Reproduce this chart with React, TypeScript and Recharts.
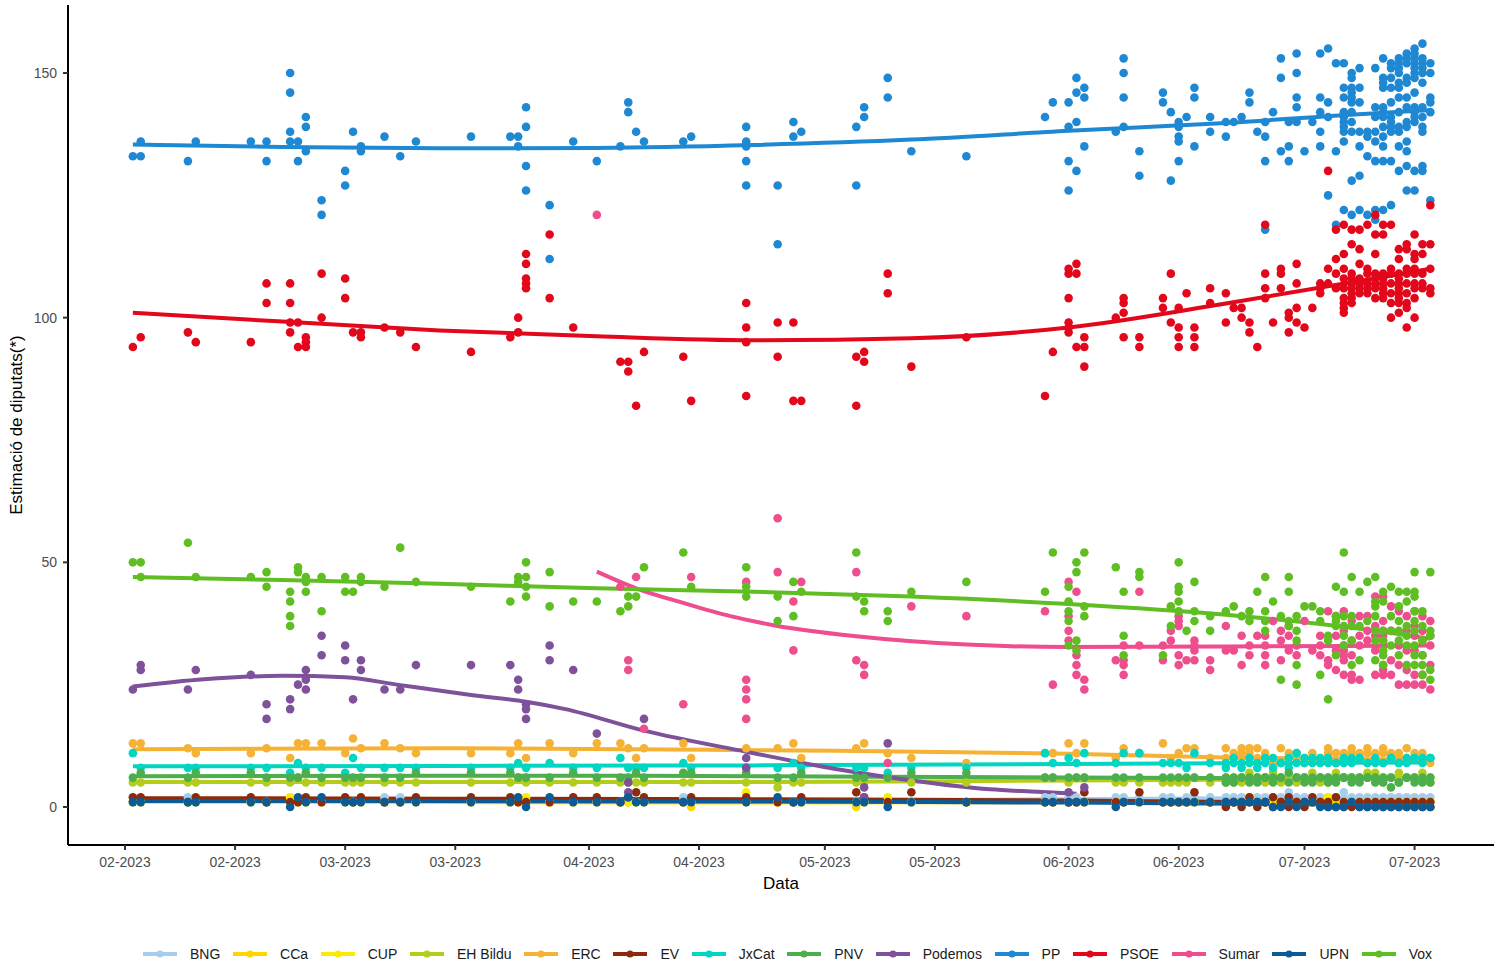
import React from 'react'
import { ComposedChart, Scatter, Line, XAxis, YAxis } from 'recharts'

type Day = [number, number[]]
type Pt = [number, number]

// x = days since 1 Feb 2023
const tickDays = [0, 14, 28, 42, 59, 73, 89, 103, 120, 134, 150, 164]
const tickLabels = [
  '02-2023', '02-2023', '03-2023', '03-2023', '04-2023', '04-2023',
  '05-2023', '05-2023', '06-2023', '06-2023', '07-2023', '07-2023',
]
const yTicks = [0, 50, 100, 150]

const parties = [
  'BNG', 'CCa', 'CUP', 'EH Bildu', 'ERC', 'EV', 'JxCat',
  'PNV', 'Podemos', 'PP', 'PSOE', 'Sumar', 'UPN', 'Vox',
]

const colors: Record<string, string> = {
  BNG: '#a6cdec',
  CCa: '#ffd500',
  CUP: '#f8ec00',
  'EH Bildu': '#b4cc1a',
  ERC: '#f5b234',
  EV: '#8b2a0c',
  JxCat: '#00d6c1',
  PNV: '#4cae4c',
  Podemos: '#7e519b',
  PP: '#1f88d3',
  PSOE: '#e2071b',
  Sumar: '#ee4d8e',
  UPN: '#0b5b97',
  Vox: '#5fbe22',
}

// every poll date (small parties are read once per date)
const pollDays = [
  1, 2, 8, 9, 16, 18, 21, 22, 23, 25, 28, 29, 30, 33, 35, 37, 44, 49, 50, 51,
  54, 57, 60, 63, 64, 65, 66, 71, 72, 79, 83, 85, 86, 93, 94, 97, 100, 107, 117, 118,
  120, 121, 122, 126, 127, 129, 132, 133, 134, 135, 136, 138,
  140, 141, 142, 143, 144, 145, 146, 147, 148, 149, 150, 151, 152, 153, 154, 155, 156,
  157, 158, 159, 160, 161, 162, 163, 164, 165, 166,
]
// the last weeks have a second poll on most days
const lateDays = [
  140, 141, 142, 143, 144, 145, 146, 147, 148, 149, 150, 151, 152, 153, 154, 155, 156,
  157, 158, 159, 160, 161, 162, 163, 164, 165, 166,
]

const ercSeats = [
  13, 13, 12, 11, 11, 12, 10, 13, 13, 13, 11, 14, 12, 13, 12, 11, 11, 11, 13, 10,
  13, 11, 13, 13, 12, 10, 12, 13, 10, 12, 12, 13, 10, 12, 13, 11, 10, 9, 11, 11,
  13, 11, 13, 10, 12, 11, 13, 10, 11, 12, 12, 10,
  12, 10, 11, 12, 10, 10, 9, 9, 11, 10, 9, 10, 9, 11, 9, 10, 11, 10, 11, 10, 11, 11, 10, 10, 10, 10, 9,
]
const jxcatSeats = [
  11, 8, 8, 8, 8, 8, 7, 9, 8, 8, 7, 10, 8, 8, 8, 8, 8, 8, 9, 8,
  9, 8, 8, 10, 8, 8, 8, 9, 8, 8, 8, 9, 8, 8, 8, 7, 8, 8, 11, 9,
  10, 9, 11, 9, 11, 11, 9, 9, 9, 8, 11, 9,
  9, 9, 8, 9, 9, 10, 8, 9, 8, 11, 9, 10, 9, 9, 9, 10, 9, 10, 9, 9, 9, 10, 9, 10, 10, 10, 10,
]
const pnvSeats = [
  6, 7, 6, 7, 7, 6, 6, 6, 7, 6, 6, 6, 6, 6, 6, 7, 7, 7, 6, 6,
  6, 7, 6, 6, 6, 7, 6, 7, 7, 7, 6, 6, 7, 6, 6, 6, 7, 7, 6, 6,
  6, 6, 6, 6, 6, 6, 6, 6, 6, 6, 6, 6,
  6, 6, 6, 6, 6, 6, 6, 6, 7, 6, 6, 6, 6, 6, 6, 6, 6, 5, 6, 5, 6, 4, 5, 6, 6, 6, 6,
]
const bilduSeats = [
  5, 5, 5, 5, 5, 5, 5, 6, 5, 5, 5, 5, 5, 5, 5, 5, 5, 5, 6, 5,
  5, 5, 5, 5, 5, 5, 5, 5, 5, 5, 4, 5, 5, 5, 5, 6, 5, 5, 6, 6,
  5, 6, 6, 5, 5, 5, 5, 5, 5, 5, 6, 5,
  5, 5, 6, 6, 6, 5, 6, 5, 6, 6, 6, 6, 5, 6, 6, 6, 6, 6, 6, 6, 5, 6, 6, 6, 6, 6, 5,
]
const evSeats = [
  2, 2, 1, 2, 2, 1, 1, 1, 2, 1, 2, 1, 2, 1, 1, 2, 2, 2, 1, 1,
  1, 2, 2, 1, 2, 3, 2, 1, 2, 2, 1, 1, 2, 3, 2, 1, 3, 1, 1, 1,
  1, 1, 3, 1, 1, 3, 1, 1, 1, 1, 3, 1,
  1, 1, 1, 2, 1, 1, 0, 1, 2, 1, 1, 2, 1, 1, 2, 1, 0, 0, 1, 0, 0, 1, 0, 0, 1, 1, 1,
]
const upnSeats = [
  1, 1, 1, 1, 1, 1, 0, 2, 1, 2, 1, 1, 1, 1, 1, 1, 1, 1, 2, 0,
  2, 1, 1, 1, 2, 1, 1, 1, 1, 1, 2, 1, 1, 1, 1, 0, 1, 1, 1, 1,
  1, 1, 1, 0, 1, 1, 1, 1, 1, 1, 1, 1,
  1, 1, 1, 1, 1, 1, 0, 0, 1, 0, 1, 1, 0, 0, 0, 0, 1, 0, 0, 0, 0, 0, 0, 0, 0, 0, 0,
]
const bngSeats = [
  1, 1, 2, 1, 1, 1, 1, 1, 1, 1, 1, 1, 1, 2, 2, 1, 1, 1, 1, 1,
  1, 1, 1, 1, 1, 1, 1, 2, 1, 1, 1, 1, 1, 1, 1, 1, 1, 1, 2, 2,
  2, 2, 1, 2, 2, 2, 2, 2, 1, 2, 2, 2,
  2, 2, 2, 2, 2, 2, 2, 2, 3, 2, 2, 2, 2, 2, 2, 3, 2, 2, 2, 2, 2, 2, 2, 2, 2, 2, 2,
]
const cupSeats = [
  1, 1, 1, 1, 1, 1, 2, 1, 1, 1, 1, 1, 1, 1, 1, 1, 1, 1, 1, 2,
  1, 1, 1, 1, 1, 1, 1, 1, 1, 3, 1, 1, 1, 1, 1, 2, 1, 1, 1, 1,
  1, 1, 1, 1, 1, 1, 1, 1, 1, 1, 1, 1,
  1, 1, 1, 2, 1, 1, 1, 1, 1, 1, 1, 1, 1, 2, 1, 1, 1, 1, 1, 1, 1, 1, 1, 1, 1, 1, 1,
]
const ccaSeats = [
  1, 1, 1, 1, 1, 1, 2, 1, 1, 1, 1, 1, 1, 1, 1, 1, 1, 1, 1, 1,
  1, 1, 1, 1, 1, 1, 1, 1, 0, 1, 1, 1, 1, 0, 1, 1, 1, 1, 1, 1,
  1, 1, 1, 1, 1, 1, 1, 1, 1, 1, 1, 1,
  1, 1, 1, 1, 1, 1, 1, 1, 1, 1, 1, 1, 1, 1, 1, 1, 1, 1, 1, 1, 1, 1, 1, 1, 1, 1, 1,
]

const ercLate = [10, 11, 12, 11, 12, 11, 10, 12, 10, 11, 10, 11, 10, 12, 11, 11, 12, 11, 12, 11, 12, 10, 11, 12, 11, 11, 10]
const jxcatLate = [8, 10, 9, 10, 8, 9, 10, 9, 10, 9, 10, 9, 10, 10, 9, 9, 10, 10, 9, 10, 9, 10, 9, 9, 10, 9, 10]
const pnvLate = [5, 5, 6, 5, 5, 6, 5, 6, 5, 6, 5, 5, 6, 5, 5, 6, 5, 6, 6, 6, 5, 6, 5, 6, 5, 5, 5]
const bilduLate = [6, 6, 5, 7, 6, 6, 7, 6, 6, 5, 6, 7, 6, 5, 7, 6, 6, 6, 7, 7, 6, 6, 7, 6, 6, 7, 6]
const evLate = [0, 1, 0, 1, 0, 1, 2, 1, 0, 1, 0, 1, 1, 0, 0, 0, 1, 1, 0, 1, 1, 0, 1, 1, 0, 0, 0]

// big parties: several polls per date
const ppPolls: Day[] = [
  [1, [133]], [2, [133, 136]], [8, [132]], [9, [136]], [16, [136]], [18, [136, 132]],
  [21, [150, 146, 138, 136]], [22, [136, 132]], [23, [141, 139, 134]], [25, [124, 121]],
  [28, [130, 127]], [29, [138]], [30, [135, 134]], [33, [137]], [35, [133]], [37, [136]],
  [44, [137]], [49, [137]], [50, [137, 135]], [51, [143, 139, 131, 126]], [54, [123, 112]],
  [57, [136]], [60, [132]], [63, [135]], [64, [144, 142]], [65, [138]], [66, [136]],
  [71, [136]], [72, [137]], [79, [139, 136, 135, 132, 127]], [83, [127, 115]], [85, [140, 137]],
  [86, [138]], [93, [139, 127]], [94, [143, 141]], [97, [149, 145]], [100, [134]], [107, [133]],
  [117, [141]], [118, [144]], [120, [144, 139, 132, 126]], [121, [149, 146, 140, 130]],
  [122, [147, 145, 135]], [126, [138]], [127, [153, 150, 145, 139]], [129, [134, 129]],
  [132, [146, 144]], [133, [142, 128]], [134, [140, 139, 137, 136, 132]], [135, [141]],
  [136, [147, 145, 135]], [138, [141, 138]], [140, [140, 137]], [141, [140]], [142, [141]],
  [143, [146, 144]], [144, [138]], [145, [140, 137, 132, 118]], [146, [142]],
  [147, [153, 149, 134]], [148, [140, 135, 132]], [149, [154, 150, 145, 143, 140]],
  [150, [134]], [151, [140]], [152, [154, 145, 142, 138, 135]], [153, [155, 144, 141, 125]],
  [154, [152, 134, 119]], [155, [152, 147, 145, 142, 141, 140, 139, 138, 136, 122]],
  [156, [150, 149, 147, 146, 145, 144, 142, 140, 138, 128, 121]],
  [157, [151, 147, 144, 138, 135, 129, 122]], [158, [138, 137, 133, 121]],
  [159, [151, 143, 141, 138, 136, 132, 122, 120]],
  [160, [153, 149, 148, 147, 143, 142, 141, 139, 137, 135, 132, 122]],
  [161, [152, 151, 149, 147, 144, 141, 140, 139, 138, 132, 123]],
  [162, [153, 152, 151, 150, 148, 147, 145, 142, 139, 138, 135, 130]],
  [163, [154, 153, 152, 149, 148, 145, 143, 140, 139, 136, 134, 131, 126]],
  [164, [155, 154, 153, 152, 151, 150, 149, 146, 143, 142, 141, 140, 130, 126]],
  [165, [156, 153, 152, 151, 150, 148, 143, 141, 139, 138, 131, 130]],
  [166, [152, 150, 145, 144, 142, 124]],
]

const psoePolls: Day[] = [
  [1, [94]], [2, [96]], [8, [97]], [9, [95]], [16, [95]], [18, [107, 103]],
  [21, [107, 103, 99, 97]], [22, [99, 94]], [23, [96, 95, 94]], [25, [109, 100]],
  [28, [108, 104]], [29, [97]], [30, [97, 96]], [33, [98]], [35, [97]], [37, [94]],
  [44, [93]], [49, [96]], [50, [97, 100]], [51, [113, 111, 108, 107, 106]], [54, [117, 104]],
  [57, [98]], [63, [91]], [64, [91, 89]], [65, [82]], [66, [93]], [71, [92]], [72, [83]],
  [79, [103, 98, 95, 84]], [83, [99, 92]], [85, [99, 83]], [86, [83]], [93, [92, 82]],
  [94, [93, 91]], [97, [109, 105]], [100, [90]], [107, [96]], [117, [84]], [118, [93]],
  [120, [110, 109, 104, 99, 98, 97]], [121, [111, 109, 94]], [122, [96, 94, 90]],
  [126, [100]], [127, [104, 103, 101, 96]], [129, [96, 94]], [132, [104, 102]],
  [133, [109, 99]], [134, [102, 98, 96, 94]], [135, [105]], [136, [98, 96, 94]],
  [138, [106, 103]], [140, [105, 99]], [141, [102]], [142, [102, 100]], [143, [99, 97]],
  [144, [94]], [145, [119, 109, 106, 104]], [146, [99]], [147, [110, 109, 106]],
  [148, [101, 100, 97]], [149, [111, 107, 102, 99]], [150, [98]], [151, [102]],
  [152, [107, 106, 105]], [153, [130, 110, 107]], [154, [118, 112, 109, 106]],
  [155, [119, 113, 110, 108, 106, 104, 103, 102, 101]],
  [156, [118, 115, 109, 108, 107, 106, 105, 104, 103]],
  [157, [118, 114, 111, 108, 107, 106, 105]], [158, [119, 110, 109, 107, 106, 105]],
  [159, [121, 117, 113, 109, 108, 107, 106, 104]],
  [160, [119, 117, 109, 108, 107, 106, 105, 104]],
  [161, [119, 110, 109, 107, 105, 103, 100]],
  [162, [114, 112, 109, 108, 107, 106, 105, 104, 103, 101]],
  [163, [115, 114, 110, 109, 107, 105, 103, 102, 98]],
  [164, [117, 113, 112, 110, 109, 107, 106, 104, 100]],
  [165, [115, 113, 109, 107, 106]], [166, [123, 115, 110, 106, 105]],
]

const voxPolls: Day[] = [
  [1, [50]], [2, [50, 47]], [8, [54]], [9, [47]], [16, [47]], [18, [48, 45]],
  [21, [44, 42, 39, 37]], [22, [49, 48]], [23, [47, 46, 44]], [25, [47, 40]], [28, [47, 44]],
  [29, [44]], [30, [47, 46]], [33, [45]], [35, [53]], [37, [46]], [44, [45]], [49, [42]],
  [50, [47, 46]], [51, [50, 47, 45, 43]], [54, [48, 41]], [57, [42]], [60, [42]], [63, [40]],
  [64, [43, 41]], [65, [43]], [66, [49]], [71, [52]], [72, [45]], [79, [49, 45, 43]],
  [83, [43, 38]], [85, [46, 39]], [86, [44]], [93, [52, 43]], [94, [42, 40]], [97, [40, 38]],
  [100, [44]], [107, [46]], [117, [44]], [118, [52]], [120, [45, 42, 40, 38, 33]],
  [121, [50, 48, 34, 32]], [122, [52, 41, 39]], [126, [49]], [127, [44, 35, 31]],
  [129, [48, 47]], [132, [31]], [133, [41, 37]], [134, [50, 45, 44, 42, 40]], [135, [36]],
  [136, [46, 40, 38]], [138, [39, 36]], [140, [40]], [141, [41]], [142, [39]], [143, [40, 38]],
  [144, [44]], [145, [47, 40, 38, 36]], [146, [42]], [147, [39, 26]], [148, [47, 44, 38, 37]],
  [149, [39, 36, 34, 29, 25]], [150, [41]], [151, [41]], [152, [40, 38, 27]], [153, [35, 34, 22]],
  [154, [45, 39, 38, 37, 31]], [155, [52, 44, 39, 37, 35, 33]], [156, [47, 39, 37, 34, 29]],
  [157, [44, 37, 30]], [158, [46, 38]], [159, [47, 42, 41, 39, 36, 34, 30]],
  [160, [44, 42, 36, 34, 32, 31, 29]], [161, [45, 39, 36, 33]], [162, [44, 41, 38, 36, 34, 31]],
  [163, [44, 42, 37, 35, 33, 29]], [164, [48, 44, 43, 40, 38, 36, 33, 31, 29]],
  [165, [40, 37, 34, 31, 29, 27]], [166, [48, 36, 35, 28, 26]],
]

const sumarPolls: Day[] = [
  [60, [121]], [63, [45]], [64, [30, 28]], [65, [47]], [66, [16]], [71, [21]], [72, [47]],
  [79, [46, 26, 24, 22, 18]], [83, [59, 48]], [85, [42, 32]], [86, [46]], [93, [48, 30]],
  [94, [29, 27]], [97, [9]], [100, [41]], [107, [39]], [117, [40]], [118, [25]],
  [120, [46, 39, 36, 34]], [121, [44, 31, 29, 27]], [122, [26, 24]], [126, [30]],
  [127, [33, 30, 29, 27]], [129, [44, 33]], [132, [33, 30]], [133, [36, 34]],
  [134, [39, 38, 37, 31, 29]], [135, [30]], [136, [34, 33, 32, 30]], [138, [30, 28]],
  [140, [37, 32]], [141, [32]], [142, [35, 29]], [143, [33, 31]], [144, [35]],
  [145, [35, 33, 31, 29]], [146, [38]], [147, [36, 34, 30]], [148, [37, 35, 32]],
  [149, [33, 31]], [150, [38]], [151, [32]], [152, [35, 33, 31]], [153, [40, 30, 29]],
  [154, [39, 35, 32, 28]], [155, [40, 36, 33, 32, 31, 30, 27]], [156, [38, 34, 31, 27, 26]],
  [157, [39, 35, 33, 26]], [158, [39, 36, 34]], [159, [43, 37, 35, 32, 27]],
  [160, [43, 38, 36, 35, 34, 33, 29, 28, 27]], [161, [41, 36, 30, 27]],
  [162, [40, 33, 29, 25]], [163, [39, 36, 32, 28, 25]], [164, [40, 37, 35, 32, 27, 25]],
  [165, [39, 36, 34, 31, 27, 25]], [166, [38, 35, 33, 29, 24]],
]

const podemosPolls: Day[] = [
  [1, [24]], [2, [29, 28]], [8, [24]], [9, [28]], [16, [27]], [18, [21, 18]], [21, [22, 20]],
  [22, [25]], [23, [28, 26, 24]], [25, [35, 31]], [28, [33, 30]], [29, [22]], [30, [30, 28]],
  [33, [24]], [35, [24]], [37, [29]], [44, [29]], [49, [29]], [50, [26, 24]],
  [51, [21, 20, 18]], [54, [33, 30]], [57, [28]], [60, [15]], [64, [5, 3]], [66, [18]],
  [79, [10, 8]], [94, [4, 2]], [97, [13]], [120, [3, 1]], [122, [4]],
]

// smoothed trends
const ppTrend: Pt[] = [[1, 135.4], [20, 134.9], [40, 134.6], [60, 134.7], [80, 135.3], [100, 136.4], [120, 138.2], [140, 139.8], [160, 141.9], [166, 142.4]]
const psoeTrend: Pt[] = [[1, 101], [20, 99.2], [40, 97.4], [60, 96.2], [80, 95.4], [100, 95.8], [120, 98], [140, 102.9], [160, 108.3], [166, 110]]
const voxTrend: Pt[] = [[1, 47], [20, 46.4], [40, 45.6], [60, 44.7], [80, 44], [100, 43], [120, 41.5], [140, 39.3], [160, 35.8], [166, 34.4]]
const sumarTrend: Pt[] = [[60, 48.1], [65, 44.7], [71, 41.7], [77, 39], [83, 37], [93, 34.9], [107, 33.2], [120, 32.7], [140, 32.8], [166, 33]]
const podemosTrend: Pt[] = [[1, 24.6], [10, 26.1], [20, 26.8], [28, 26.5], [35, 24.9], [44, 22.9], [51, 21.5], [56, 20], [66, 15.6], [79, 11.3], [91, 7.6], [100, 5.4], [110, 3.6], [116, 3.1], [121, 2.7]]
const ercTrend: Pt[] = [[1, 11.8], [40, 12], [80, 11.6], [120, 10.9], [140, 10.1], [166, 9.6]]
const jxcatTrend: Pt[] = [[1, 8.3], [40, 8.4], [80, 8.5], [120, 8.8], [166, 9.1]]
const pnvTrend: Pt[] = [[1, 6.3], [40, 6.4], [80, 6.3], [120, 6], [166, 5.8]]
const bilduTrend: Pt[] = [[1, 5.1], [40, 5.1], [80, 5.1], [120, 5.4], [166, 5.8]]
const evTrend: Pt[] = [[1, 1.8], [40, 1.7], [80, 1.6], [120, 1.3], [166, 0.7]]
const upnTrend: Pt[] = [[1, 1.2], [40, 1.2], [80, 1.1], [120, 0.9], [166, 0.4]]
const bngTrend: Pt[] = [[1, 1.2], [40, 1.2], [80, 1.3], [120, 1.6], [166, 2]]
const cupTrend: Pt[] = [[1, 1.1], [40, 1.2], [80, 1.3], [120, 1.2], [166, 1.1]]
const ccaTrend: Pt[] = [[1, 1.1], [40, 1], [80, 0.9], [120, 1], [166, 1]]

const grouped = (rows: Day[]) => rows.flatMap(([d, vs]) => vs.map((v) => ({ x: d, y: v })))
const aligned = (vals: number[], days: number[] = pollDays) => days.map((d, i) => ({ x: d, y: vals[i] }))
const curve = (pts: Pt[]) => pts.map(([x, y]) => ({ x, y }))

const points: Record<string, { x: number; y: number }[]> = {
  BNG: aligned(bngSeats),
  CCa: aligned(ccaSeats),
  CUP: aligned(cupSeats),
  'EH Bildu': [...aligned(bilduSeats), ...aligned(bilduLate, lateDays)],
  ERC: [...aligned(ercSeats), ...aligned(ercLate, lateDays)],
  EV: [...aligned(evSeats), ...aligned(evLate, lateDays)],
  JxCat: [...aligned(jxcatSeats), ...aligned(jxcatLate, lateDays)],
  PNV: [...aligned(pnvSeats), ...aligned(pnvLate, lateDays)],
  Podemos: grouped(podemosPolls),
  PP: grouped(ppPolls),
  PSOE: grouped(psoePolls),
  Sumar: grouped(sumarPolls),
  UPN: aligned(upnSeats),
  Vox: grouped(voxPolls),
}

const trends: Record<string, { x: number; y: number }[]> = {
  BNG: curve(bngTrend),
  CCa: curve(ccaTrend),
  CUP: curve(cupTrend),
  'EH Bildu': curve(bilduTrend),
  ERC: curve(ercTrend),
  EV: curve(evTrend),
  JxCat: curve(jxcatTrend),
  PNV: curve(pnvTrend),
  Podemos: curve(podemosTrend),
  PP: curve(ppTrend),
  PSOE: curve(psoeTrend),
  Sumar: curve(sumarTrend),
  UPN: curve(upnTrend),
  Vox: curve(voxTrend),
}

const FONT = '"Liberation Sans", Arial, Helvetica, sans-serif'

const dot = (color: string) => (p: any) => <circle cx={p.cx} cy={p.cy} r={4.3} fill={color} />

function LegendKey({ color }: { color: string }) {
  return (
    <svg width={34} height={10} style={{ display: 'block' }}>
      <line x1={0} y1={5} x2={34} y2={5} stroke={color} strokeWidth={4} />
      <circle cx={17} cy={5} r={3.6} fill={color} />
    </svg>
  )
}

export default function App() {
  return (
    <div style={{ position: 'absolute', left: 0, top: 0, width: 1503, height: 967, background: '#fff', fontFamily: FONT }}>
      <ComposedChart width={1503} height={967} margin={{ top: 5, right: 9, bottom: 0, left: 0 }}>
        <XAxis
          type="number"
          dataKey="x"
          domain={[-7.25, 174.1]}
          allowDataOverflow
          ticks={tickDays}
          interval={0}
          tickFormatter={(v: number) => tickLabels[tickDays.indexOf(v)] ?? ''}
          height={122}
          axisLine={{ stroke: '#000', strokeWidth: 2 }}
          tickLine={{ stroke: '#333', strokeWidth: 2 }}
          tickSize={5}
          tickMargin={7}
          tick={{ fill: '#4d4d4d', fontSize: 14, fontFamily: FONT }}
        />
        <YAxis
          type="number"
          dataKey="y"
          domain={[-7.77, 163.9]}
          allowDataOverflow
          ticks={yTicks}
          interval={0}
          width={68}
          axisLine={{ stroke: '#000', strokeWidth: 2 }}
          tickLine={{ stroke: '#333', strokeWidth: 2 }}
          tickSize={5}
          tickMargin={6}
          tick={{ fill: '#4d4d4d', fontSize: 14, fontFamily: FONT }}
        />
        {parties.map((p) => (
          <Line
            key={'t-' + p}
            data={trends[p]}
            dataKey="y"
            type="monotone"
            stroke={colors[p]}
            strokeWidth={4}
            dot={false}
            activeDot={false}
            isAnimationActive={false}
          />
        ))}
        {parties.map((p) => (
          <Scatter
            key={'p-' + p}
            data={points[p]}
            dataKey="y"
            fill={colors[p]}
            shape={dot(colors[p])}
            isAnimationActive={false}
          />
        ))}
      </ComposedChart>

      <div style={{ position: 'absolute', left: 0, width: 1562, top: 874, textAlign: 'center', fontSize: 17, color: '#000' }}>
        Data
      </div>
      <div
        style={{
          position: 'absolute',
          left: 17,
          top: 425,
          transform: 'translate(-50%, -50%) rotate(-90deg)',
          whiteSpace: 'nowrap',
          fontSize: 17,
          color: '#000',
        }}
      >
        Estimació de diputats(*)
      </div>

      <div style={{ position: 'absolute', left: 143, top: 945, display: 'flex', alignItems: 'center', fontSize: 14, color: '#1a1a1a' }}>
        {parties.map((p) => (
          <div key={p} style={{ display: 'flex', alignItems: 'center', marginRight: 12.7 }}>
            <LegendKey color={colors[p]} />
            <span style={{ marginLeft: 13, lineHeight: '18px' }}>{p}</span>
          </div>
        ))}
      </div>
    </div>
  )
}
